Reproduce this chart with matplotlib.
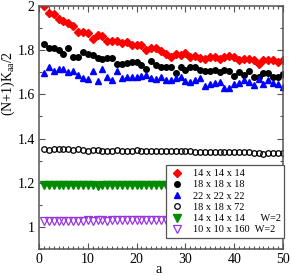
import numpy as np
import matplotlib
matplotlib.use("Agg")
import matplotlib.pyplot as plt
from matplotlib.ticker import MultipleLocator

plt.rcParams['font.family'] = ['Liberation Serif', 'DejaVu Serif']
plt.rcParams['mathtext.fontset'] = 'custom'
plt.rcParams['mathtext.rm'] = 'Liberation Serif'
plt.rcParams['mathtext.it'] = 'Liberation Serif:italic'

a = np.arange(1, 51)

red_14 = [2.000, 1.967, 1.962, 1.940, 1.932, 1.924, 1.912, 1.883, 1.883, 1.878,
          1.850, 1.868, 1.866, 1.842, 1.842, 1.842, 1.833, 1.839, 1.823, 1.823,
          1.823, 1.803, 1.808, 1.808, 1.797, 1.782, 1.770, 1.785, 1.780, 1.788,
          1.770, 1.773, 1.767, 1.762, 1.770, 1.770, 1.762, 1.770, 1.773, 1.770,
          1.757, 1.762, 1.762, 1.757, 1.736, 1.755, 1.755, 1.757, 1.745, 1.757]

black_18 = [1.830, 1.812, 1.812, 1.803, 1.785, 1.808, 1.770, 1.770, 1.792, 1.782,
            1.777, 1.767, 1.762, 1.767, 1.767, 1.739, 1.739, 1.742, 1.747, 1.747,
            1.732, 1.717, 1.752, 1.732, 1.724, 1.724, 1.724, 1.697, 1.724, 1.712,
            1.724, 1.724, 1.712, 1.706, 1.706, 1.709, 1.702, 1.709, 1.706, 1.682,
            1.702, 1.686, 1.706, 1.679, 1.679, 1.697, 1.697, 1.679, 1.679, 1.691]

blue_22 = [1.697, 1.724, 1.706, 1.717, 1.717, 1.703, 1.706, 1.686, 1.676, 1.668,
           1.706, 1.661, 1.717, 1.679, 1.664, 1.706, 1.676, 1.679, 1.679, 1.679,
           1.682, 1.686, 1.676, 1.671, 1.679, 1.664, 1.664, 1.676, 1.679, 1.661,
           1.656, 1.667, 1.676, 1.636, 1.645, 1.652, 1.656, 1.630, 1.630, 1.648,
           1.652, 1.664, 1.656, 1.641, 1.671, 1.645, 1.667, 1.652, 1.648, 1.633]

open_18x72 = [1.353, 1.350, 1.352, 1.352, 1.352, 1.352, 1.350, 1.352, 1.350, 1.345,
              1.350, 1.347, 1.345, 1.344, 1.345, 1.348, 1.345, 1.345, 1.344, 1.346,
              1.345, 1.343, 1.345, 1.345, 1.345, 1.343, 1.344, 1.345, 1.343, 1.345,
              1.342, 1.340, 1.340, 1.338, 1.338, 1.340, 1.340, 1.339, 1.340, 1.339,
              1.338, 1.338, 1.337, 1.333, 1.333, 1.332, 1.333, 1.333, 1.335, 1.333]

green_w2 = [1.190, 1.188, 1.190, 1.189, 1.190, 1.188, 1.190, 1.189, 1.190, 1.188,
            1.190, 1.186, 1.188, 1.189, 1.188, 1.190, 1.189, 1.188, 1.190, 1.189,
            1.188, 1.190, 1.189, 1.190, 1.188, 1.190, 1.189, 1.190, 1.188, 1.190,
            1.189, 1.190, 1.188, 1.190, 1.189, 1.190, 1.188, 1.190, 1.189, 1.190,
            1.189, 1.190, 1.188, 1.190, 1.189, 1.190, 1.189, 1.190, 1.189, 1.192]

purple_w2 = [1.027, 1.026, 1.027, 1.028, 1.027, 1.028, 1.028, 1.027, 1.028, 1.029,
             1.028, 1.029, 1.029, 1.028, 1.030, 1.029, 1.030, 1.030, 1.031, 1.030,
             1.031, 1.031, 1.032, 1.031, 1.032, 1.032, 1.033, 1.032, 1.033, 1.033,
             1.034, 1.033, 1.034, 1.034, 1.035, 1.034, 1.035, 1.035, 1.036, 1.035,
             1.036, 1.036, 1.037, 1.037, 1.038, 1.038, 1.039, 1.040, 1.041, 1.055]

labels = ["14 x 14 x 14", "18 x 18 x 18", "22 x 22 x 22",
          "18 x 18 x 72", "14 x 14 x 14      W=2", "10 x 10 x 160  W=2"]

fig = plt.figure(figsize=(2.91, 2.76), dpi=100)
ax = fig.add_axes([0.134, 0.098, 0.8385, 0.880])

ax.plot(a, red_14, 'D', color='#ff0000', ms=3.8, mec='#ff0000', label=labels[0])
ax.plot(a, black_18, 'o', color='black', ms=4.0, label=labels[1])
ax.plot(a, blue_22, '^', color='#0000ff', ms=4.4, label=labels[2])
ax.plot(a, open_18x72, 'o', mfc='none', mec='black', mew=0.9, ms=4.0, label=labels[3])
ax.plot(a, green_w2, 'v', color='#008b00', ms=5.4, label=labels[4])
ax.plot(a, purple_w2, 'v', mfc='none', mec='#9932e6', mew=0.9, ms=5.4, label=labels[5])

ax.set_xlim(0, 50)
ax.set_ylim(0.9, 2.0)
ax.xaxis.set_major_locator(MultipleLocator(10))
ax.xaxis.set_minor_locator(MultipleLocator(1))
ax.yaxis.set_minor_locator(MultipleLocator(0.1))
ax.set_yticks([1.0, 1.2, 1.4, 1.6, 1.8, 2.0])
ax.set_yticklabels(['1', '1.2', '1.4', '1.6', '1.8', '2'])

spine_col = '#555555'
for s in ax.spines.values():
    s.set_color(spine_col)
    s.set_linewidth(1.1)
ax.tick_params(which='both', direction='in', top=True, right=True, colors=spine_col,
               labelcolor='black', labelsize=10)
ax.tick_params(which='major', length=4, width=0.8, pad=3)
ax.tick_params(which='minor', length=2, width=0.8)

ax.set_xlabel('a', fontsize=10)
ax.xaxis.set_label_coords(0.49, -0.058)
ax.set_ylabel(r'(N+1)K$_{\rm aa}$/2', fontsize=10)
ax.yaxis.set_label_coords(-0.09, 0.68)

leg = ax.legend(loc='lower right', bbox_to_anchor=(1.005, 0.045), fontsize=7.4,
                frameon=True, fancybox=False, framealpha=1, edgecolor='#555555',
                handlelength=1.4, handletextpad=0.8, borderpad=0.35,
                labelspacing=0.2, borderaxespad=0)
leg.get_frame().set_linewidth(0.9)

fig.savefig('out.png', dpi=100)
